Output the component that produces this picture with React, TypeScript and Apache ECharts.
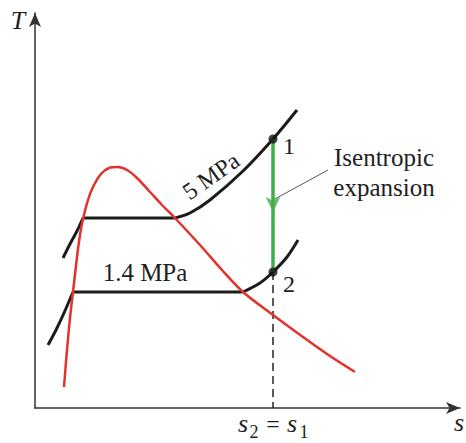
import React, { useEffect, useRef } from "react";
import * as echarts from "echarts";

const FONT = '"Liberation Serif", "Times New Roman", serif';

// [s, T] in arbitrary diagram units
const domeCurve: [number, number][] = [
  [29, 21], [32, 58], [35, 90], [38, 116], [42, 151], [45, 173], [48, 189],
  [53, 208], [58, 221], [66, 234], [74, 240], [83, 241], [92, 238], [102, 230],
  [115, 216], [127, 203], [140, 190], [165, 163], [187, 138], [208, 116],
  [238, 93], [268, 71], [295, 52], [320, 36],
];

const p5Left: [number, number][] = [[28, 150], [35, 164], [42, 177], [48, 190]];
const p5Flat: [number, number][] = [[48, 190], [140, 190]];
const p5Right: [number, number][] = [[140, 190], [155, 195], [175, 208], [208, 237], [238, 269], [262, 298]];

const p14Left: [number, number][] = [[13, 63], [21, 78], [29, 95], [38, 116]];
const p14Flat: [number, number][] = [[38, 116], [208, 116]];
const p14Right: [number, number][] = [[208, 116], [225, 125], [238, 136], [252, 151], [263, 168]];

const state1: [number, number] = [238, 269];
const state2: [number, number] = [238, 136];
const arrowPoint: [number, number] = [238, 196];
const leaderLine: [number, number][] = [[238, 208], [293, 238]];

const BLACK = "#1c1c1c";
const RED = "#e3312c";
const GREEN = "#3fae49";

function line(data: [number, number][], color: string, width: number, smooth: number | boolean, z: number, type: any = "solid") {
  return {
    type: "line",
    data,
    symbol: "none",
    showSymbol: false,
    smooth,
    silent: true,
    z,
    lineStyle: { color, width, type, cap: "butt" },
  };
}

function txt(text: string, x: number, y: number, size: number, italic = false, extra: any = {}) {
  return {
    type: "text",
    x,
    y,
    ...extra,
    style: {
      text,
      fontFamily: FONT,
      fontSize: size,
      fontStyle: italic ? "italic" : "normal",
      fill: "#1e1e1e",
      align: "center",
      verticalAlign: "middle",
      textAlign: "center",
      textVerticalAlign: "middle",
    },
  };
}

export default function App() {
  const ref = useRef<HTMLDivElement>(null);
  useEffect(() => {
    if (!ref.current) return;
    const chart = echarts.init(ref.current, undefined, { renderer: "svg" });
    const axisCommon = {
      type: "value",
      axisLine: {
        show: true,
        symbol: ["none", "arrow"],
        symbolSize: [9, 14],
        lineStyle: { color: "#333", width: 1.5 },
      },
      axisTick: { show: false },
      axisLabel: { show: false },
      splitLine: { show: false },
    };
    chart.setOption({
      animation: false,
      backgroundColor: "#fff",
      grid: { left: 35, right: 6, top: 13, bottom: 35 },
      xAxis: { ...axisCommon, min: 0, max: 425 },
      yAxis: { ...axisCommon, min: 0, max: 395 },
      series: [
        line([state2, [state2[0], 0]], "#222", 1.5, false, 2, [8, 5]),
        line(leaderLine, "#555", 1, false, 2),
        line(p5Left, BLACK, 3, 0.3, 3),
        line(p5Flat, BLACK, 3, false, 3),
        line(p5Right, BLACK, 3, 0.3, 3),
        line(p14Left, BLACK, 3, 0.3, 3),
        line(p14Flat, BLACK, 3, false, 3),
        line(p14Right, BLACK, 3, 0.3, 3),
        line(domeCurve, RED, 2.5, 0.3, 4),
        line([state1, state2], GREEN, 3.5, false, 5),
        {
          type: "scatter",
          data: [arrowPoint],
          symbol: "arrow",
          symbolRotate: 180,
          symbolSize: [11, 15],
          itemStyle: { color: GREEN },
          silent: true,
          z: 6,
        },
        {
          type: "scatter",
          data: [state1, state2],
          symbol: "circle",
          symbolSize: 9,
          itemStyle: { color: "#111" },
          silent: true,
          z: 7,
        },
      ],
      graphic: [
        txt("T", 18, 20, 26, true),
        txt("s", 459, 422, 26, true),
        txt("s", 243, 423, 26, true),
        txt("2", 254, 432, 18),
        txt("=", 273, 424, 24),
        txt("s", 292, 423, 26, true),
        txt("1", 304, 432, 18),
        txt("1", 289, 146, 24),
        txt("2", 289, 284, 24),
        txt("Isentropic", 384, 157, 25),
        txt("expansion", 384, 187, 25),
        txt("1.4 MPa", 145, 272, 25),
        txt("5 MPa", 211, 176, 24, false, { rotation: (35 * Math.PI) / 180 }),
      ],
    });
    return () => chart.dispose();
  }, []);
  return <div ref={ref} style={{ position: "fixed", left: 0, top: 0, width: 466, height: 443 }} />;
}
